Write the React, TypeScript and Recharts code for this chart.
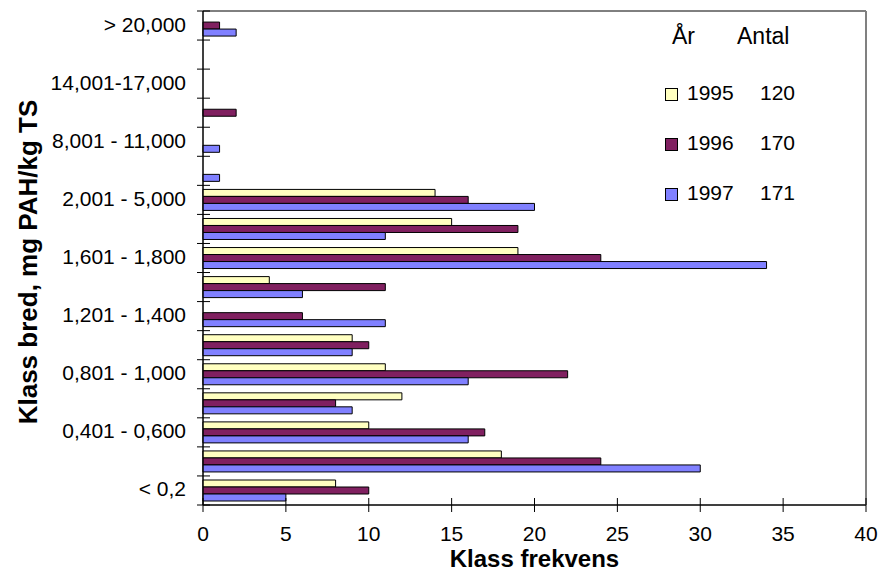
import { Bar, BarChart, Legend, ReferenceArea, ReferenceLine, XAxis, YAxis } from 'recharts'

// class widths, top to bottom as drawn
const categories = [
  '> 20,000',
  '17,001-20,000',
  '14,001-17,000',
  '11,001-14,000',
  '8,001 - 11,000',
  '5,001 - 8,000',
  '2,001 - 5,000',
  '1,801 - 2,000',
  '1,601 - 1,800',
  '1,401 - 1,600',
  '1,201 - 1,400',
  '1,001 - 1,200',
  '0,801 - 1,000',
  '0,601 - 0,800',
  '0,401 - 0,600',
  '0,201 - 0,400',
  '< 0,2',
]
const freq1995 = [0, 0, 0, 0, 0, 0, 14, 15, 19, 4, 0, 9, 11, 12, 10, 18, 8]
const freq1996 = [1, 0, 0, 2, 0, 0, 16, 19, 24, 11, 6, 10, 22, 8, 17, 24, 10]
const freq1997 = [2, 0, 0, 0, 1, 1, 20, 11, 34, 6, 11, 9, 16, 9, 16, 30, 5]
const years = ['1995', '1996', '1997']
const antal = [120, 170, 171]
const xTicks = [0, 5, 10, 15, 20, 25, 30, 35, 40]
const colors = ['#FFFFC0', '#802060', '#8080FF']

const data = categories.map((label, i) => ({
  label,
  y1995: freq1995[i],
  y1996: freq1996[i],
  y1997: freq1997[i],
}))

const font = '"Liberation Sans", Arial, sans-serif'

// Excel style: tick marks on the class boundaries, label on every other class
const YTick = ({ x, y, payload, index }: any) => {
  const half = payload?.offset ?? 494 / categories.length / 2
  const last = index === categories.length - 1
  return (
    <g>
      <line x1={x - 6} x2={x + 7} y1={y - half} y2={y - half} stroke="#000" />
      {last && <line x1={x - 6} x2={x + 7} y1={y + half} y2={y + half} stroke="#000" />}
      {index % 2 === 0 && (
        <text x={x - 17} y={y + 6} textAnchor="end" fontSize={21} fontFamily={font} fill="#000">
          {payload.value}
        </text>
      )}
    </g>
  )
}

const XTick = ({ x, y, payload }: any) => (
  <g>
    <line x1={x} x2={x} y1={y - 7} y2={y + 7} stroke="#000" />
    <text x={x} y={y + 36} textAnchor="middle" fontSize={21} fontFamily={font} fill="#000">
      {payload.value}
    </text>
  </g>
)

const LegendBox = ({ payload }: any) => (
  <div style={{ fontFamily: font, fontSize: 21, color: '#000' }}>
    <div style={{ display: 'flex', height: 24, lineHeight: '24px', marginBottom: 33, fontSize: 23 }}>
      <span style={{ width: 65, paddingLeft: 7 }}>År</span>
      <span>Antal</span>
    </div>
    {(payload ?? []).map((p: any, i: number) => (
      <div
        key={p.value}
        style={{ display: 'flex', alignItems: 'center', height: 24, lineHeight: '24px', marginBottom: 26 }}
      >
        <span
          style={{ width: 11, height: 11, border: '1px solid #000', background: p.color, marginRight: 9, marginTop: 3 }}
        />
        <span style={{ width: 73 }}>{p.value}</span>
        <span>{antal[i]}</span>
      </div>
    ))}
  </div>
)

export default function App() {
  return (
    <div style={{ position: 'absolute', left: 0, top: 0 }}>
      <BarChart
        width={880}
        height={572}
        data={data}
        layout="vertical"
        margin={{ top: 11, right: 14, bottom: 0, left: 0 }}
        barCategoryGap="14%"
        barGap={0}
      >
        <ReferenceArea x1={0} x2={40} fill="none" stroke="#000" strokeWidth={1} />
        <ReferenceLine x={40} stroke="#808080" strokeWidth={2} />
        <XAxis
          type="number"
          domain={[0, 40]}
          ticks={xTicks}
          interval={0}
          tick={XTick}
          tickLine={false}
          tickSize={0}
          tickMargin={0}
          height={67}
          axisLine={{ stroke: '#000' }}
          label={({ viewBox }: any) => (
            <text
              x={viewBox.x + viewBox.width / 2}
              y={viewBox.y + 62}
              textAnchor="middle"
              fontSize={24}
              fontWeight="bold"
              fontFamily={font}
              fill="#000"
            >
              Klass frekvens
            </text>
          )}
        />
        <YAxis
          type="category"
          dataKey="label"
          width={203}
          interval={0}
          tick={YTick}
          tickLine={false}
          tickSize={0}
          tickMargin={0}
          axisLine={{ stroke: '#000' }}
          label={({ viewBox }: any) => {
            const cx = viewBox.x + 37
            const cy = viewBox.y + viewBox.height / 2 + 4
            return (
              <text
                x={cx}
                y={cy}
                transform={`rotate(-90, ${cx}, ${cy})`}
                textAnchor="middle"
                fontSize={26}
                fontWeight="bold"
                fontFamily={font}
                fill="#000"
              >
                Klass bred, mg PAH/kg TS
              </text>
            )
          }}
        />
        <Legend
          content={<LegendBox />}
          layout="horizontal"
          align="center"
          verticalAlign="middle"
          wrapperStyle={{ left: 665, top: 24, width: 200 }}
        />
        {years.map((yr, i) => (
          <Bar
            key={yr}
            dataKey={`y${yr}`}
            name={yr}
            fill={colors[i]}
            stroke="#000"
            strokeWidth={1}
            isAnimationActive={false}
          />
        ))}
      </BarChart>
    </div>
  )
}
